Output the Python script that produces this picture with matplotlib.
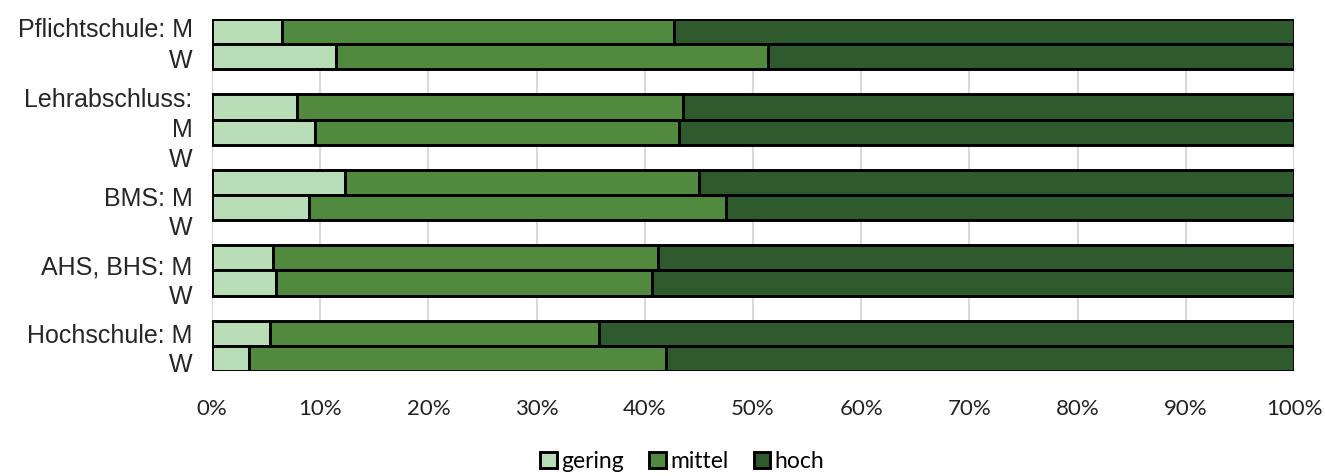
import matplotlib
matplotlib.use("Agg")
import matplotlib.pyplot as plt
import numpy as np

# Shares (%) per education level and gender; blank rows separate groups
rows = ["Pflichtschule: M", "Pflichtschule: W", "",
        "Lehrabschluss: M", "Lehrabschluss: W", "",
        "BMS: M", "BMS: W", "",
        "AHS, BHS: M", "AHS, BHS: W", "",
        "Hochschule: M", "Hochschule: W"]
gering = [6.5, 11.5, None, 7.9, 9.5, None, 12.3, 9.0, None, 5.6, 5.9, None, 5.4, 3.4]
mittel = [36.2, 39.9, None, 35.6, 33.7, None, 32.7, 38.5, None, 35.6, 34.8, None, 30.4, 38.6]
hoch = [57.3, 48.6, None, 56.5, 56.8, None, 55.0, 52.5, None, 58.8, 59.3, None, 64.2, 58.0]

series_names = ["gering", "mittel", "hoch"]
colors = ["#B9DEB6", "#518A3F", "#2F5A2E"]

# Category label lines as they appear beside the bars
label_lines = ["Pflichtschule: M", "W", "Lehrabschluss:", "M", "W",
               "BMS: M", "W", "AHS, BHS: M", "W", "Hochschule: M", "W"]
label_pos = [-0.16, 1.07, 2.64, 3.80, 4.99, 6.55, 7.70, 9.27, 10.47, 12.02, 13.15]

fig = plt.figure(figsize=(13.25, 4.76), dpi=100)
ax = fig.add_axes([0.16, 0.2206, 0.8166, 0.7394])

idx = [i for i, v in enumerate(gering) if v is not None]
y = np.array(idx, dtype=float)
left = np.zeros(len(idx))
for name, vals, col in zip(series_names, [gering, mittel, hoch], colors):
    v = np.array([vals[i] for i in idx], dtype=float)
    ax.barh(y, v, left=left, height=1.0, color=col, edgecolor="black",
            linewidth=2.1, label=name, zorder=3)
    left += v

ax.set_xlim(0, 100)
ax.set_ylim(len(rows) - 0.5, -0.5)
ax.set_xticks(np.arange(0, 101, 10))
ax.set_xticklabels([f"{t}%" for t in range(0, 101, 10)],
                   fontfamily="Lato", fontsize=16, color="#222222")
ax.set_yticks(label_pos)
ax.set_yticklabels(label_lines, fontfamily="Liberation Sans", fontsize=18,
                   color="#262626")
ax.tick_params(axis="x", length=0, pad=20)
ax.tick_params(axis="y", length=0, pad=14)
ax.xaxis.grid(True, color="#D9D9D9", linewidth=1.5, zorder=0)
ax.set_axisbelow(True)
for s in ax.spines.values():
    s.set_visible(False)

fig.legend(loc="center", bbox_to_anchor=(0.515, 0.03), ncol=3, frameon=False,
           prop={"family": "Lato", "size": 16.5}, handlelength=0.72,
           handleheight=0.72, handletextpad=0.2, columnspacing=1.1,
           borderpad=0, borderaxespad=0)

fig.savefig("out.png", dpi=100)
